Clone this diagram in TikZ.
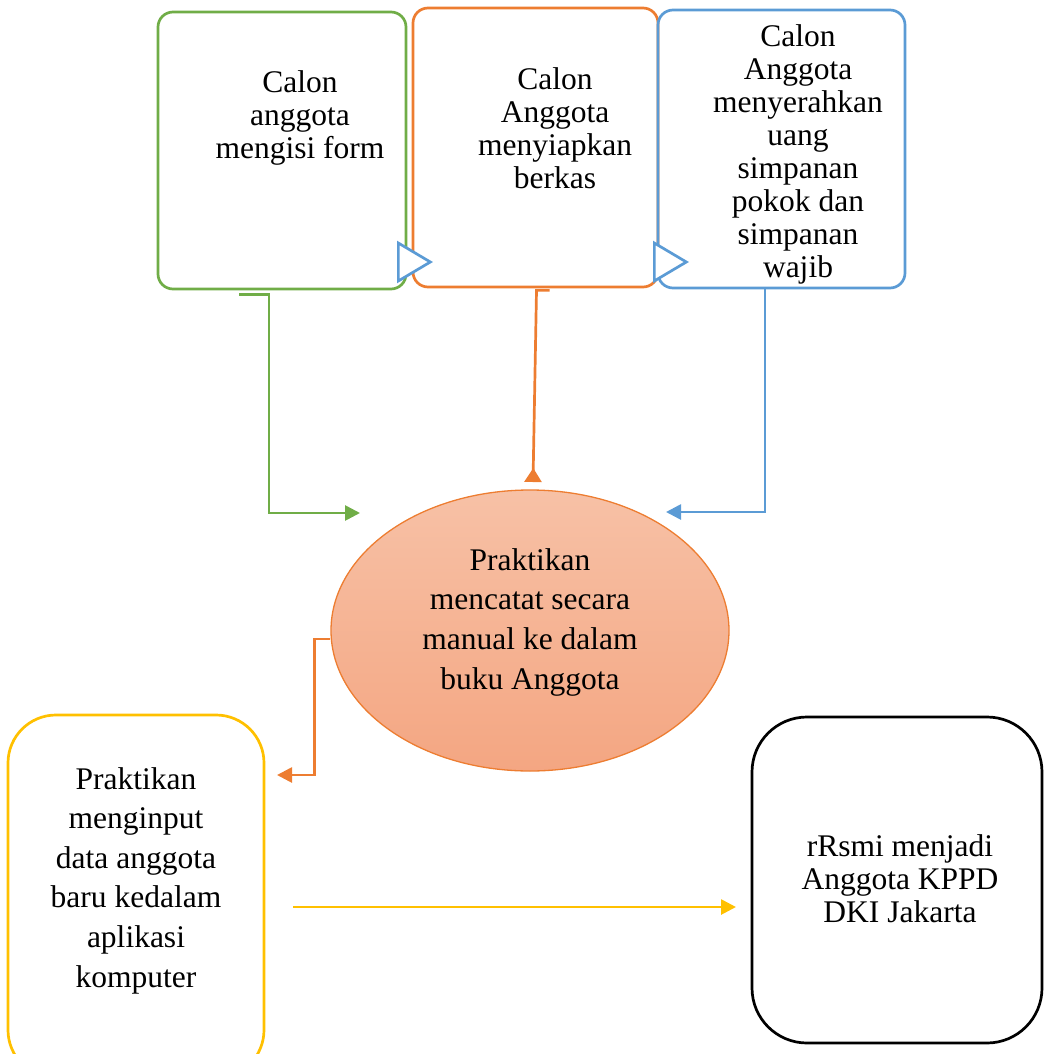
\documentclass[tikz,border=0pt]{standalone}
\usepackage{fontspec}
\setmainfont{Liberation Serif}
\usetikzlibrary{arrows.meta,calc,shapes.geometric}
\definecolor{cgreen}{HTML}{70AD47}
\definecolor{corange}{HTML}{ED7D31}
\definecolor{cblue}{HTML}{5B9BD5}
\definecolor{cyellow}{HTML}{FFC000}
\definecolor{ctop}{RGB}{247,193,166}
\definecolor{cbot}{RGB}{244,166,130}
\begin{document}
\begin{tikzpicture}[x=1pt,y=-1pt,
  box/.style={draw, line width=2.7pt, rounded corners=15pt, inner sep=0pt, rectangle},
  lbl/.style={font=\fontsize{31.5}{33}\selectfont, align=center, anchor=base, inner sep=0pt, text=black},
  wide/.style={font=\fontsize{31.5}{39.6}\selectfont},
  conn/.style={line width=2.7pt},
  tip/.style={-{Triangle[length=15pt,width=15pt]}},
  opentri/.style={draw=cblue, line width=2.7pt, -{Triangle[open,fill=white,length=36pt,width=42pt,line join=miter]}},
]
\useasboundingbox (0,0) rectangle (1044,1054);

% top boxes
\node[box, draw=cgreen, minimum width=248pt, minimum height=277pt] (g) at (282,150.5) {};
\node[box, draw=corange, minimum width=245pt, minimum height=279pt] (o) at (535.5,147.5) {};
\node[box, draw=cblue, minimum width=247pt, minimum height=278pt] (b) at (781.5,149) {};

\node[lbl] (gt) at (300,158) {Calon\\anggota\\mengisi form};
\node[lbl] (ot) at (555,188) {Calon\\Anggota\\menyiapkan\\berkas};
\node[lbl] (bt) at (798,277) {Calon\\Anggota\\menyerahkan\\uang\\simpanan\\pokok dan\\simpanan\\wajib};

% open triangles between the top boxes
\coordinate (t1a) at (397,262);
\coordinate (t1b) at (433,262);
\coordinate (t2a) at (653,262);
\coordinate (t2b) at (689,262);
\draw[opentri] (t1a) -- (t1b);
\draw[opentri] (t2a) -- (t2b);

% ellipse
\node[ellipse, draw=corange, line width=1.3pt, top color=ctop, bottom color=cbot,
      minimum width=398pt, minimum height=281pt, inner sep=0pt] (e) at (530,630.5) {};
\node[lbl, wide] (et) at (530,689) {Praktikan\\mencatat secara\\manual ke dalam\\buku Anggota};

% bottom boxes
\node[box, draw=cyellow, rounded corners=48pt, minimum width=256pt, minimum height=363pt] (y) at (136,896.5) {};
\node[lbl, wide] (yt) at (136,987) {Praktikan\\menginput\\data anggota\\baru kedalam\\aplikasi\\komputer};
\node[box, draw=black, rounded corners=55pt, minimum width=290pt, minimum height=326pt] (k) at (897,880) {};
\node[lbl] (kt) at (900,922) {rRsmi menjadi\\Anggota KPPD\\DKI Jakarta};

% connectors
\coordinate (gend) at (360,513);
\draw[conn, cgreen, tip] ($(g.south)+(-43,4)$) -- ++(30,0) |- (gend);

\coordinate (oend) at (533,482);
\draw[conn, corange, -{Triangle[reversed,length=14pt,width=17pt]}]
  ($(o.south)+(14,2)$) -- ++(-13,0) -- (oend);

\coordinate (bend) at (666,512);
\draw[conn, cblue, tip] ($(b.south)+(-16.5,0)$) |- (bend);

\coordinate (eend) at (277,775);
\draw[conn, corange, tip] ($(e.west)+(0,8.5)$) -- ++(-16,0) |- (eend);

\coordinate (ystart) at (293,907);
\coordinate (yend) at (736,907);
\draw[conn, cyellow, tip] (ystart) -- (yend);
\end{tikzpicture}
\end{document}
